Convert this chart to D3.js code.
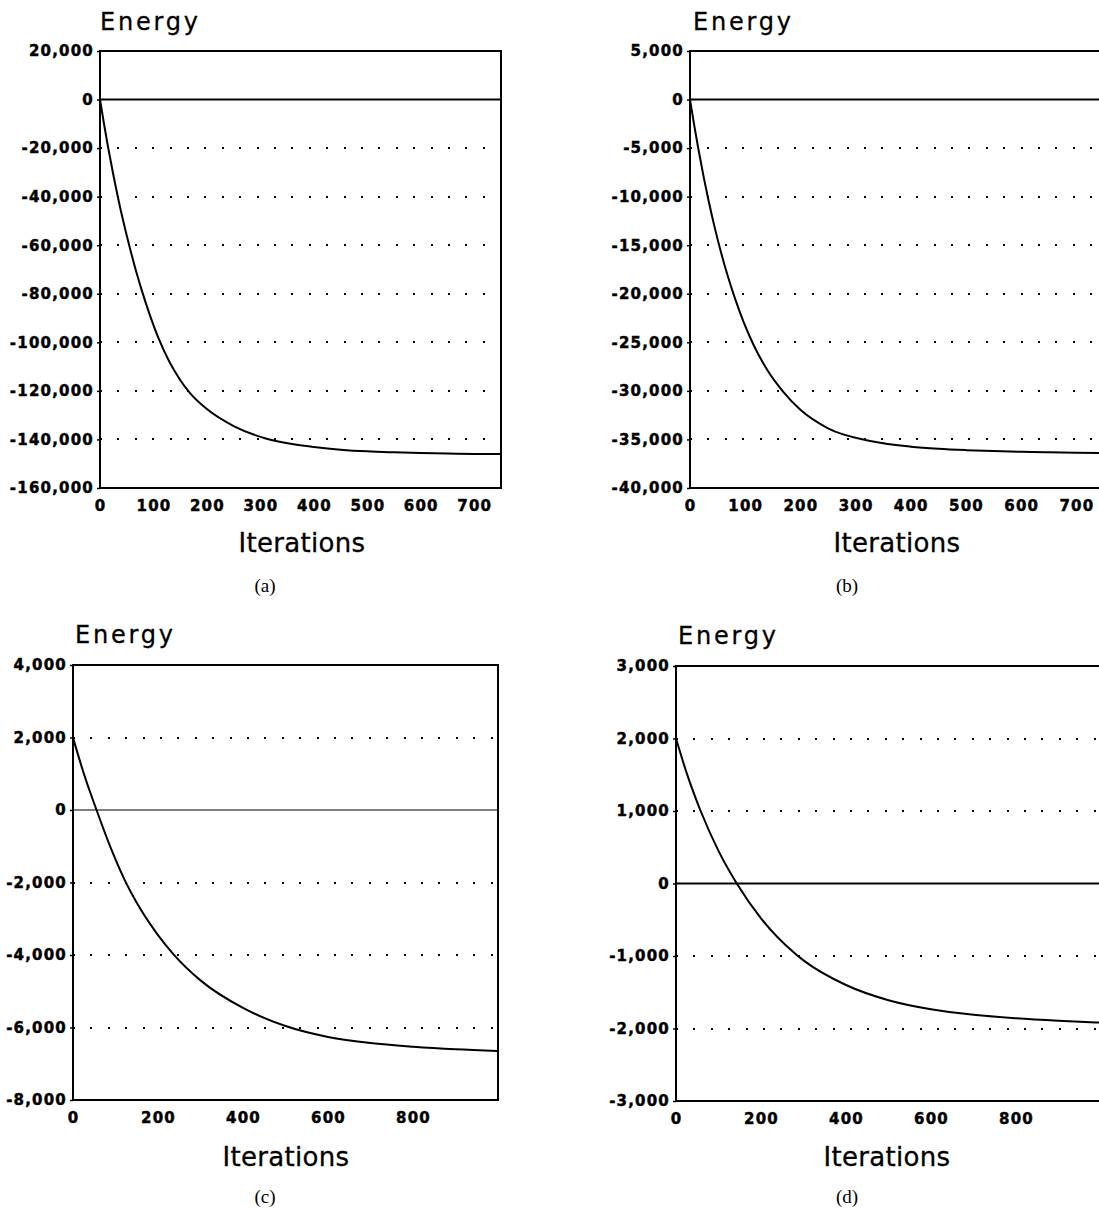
<!DOCTYPE html>
<meta charset="utf-8">
<script src="https://d3js.org/d3.v7.min.js"></script>
<style>
  body { margin: 0; background: #fff; }
  svg { display: block; }
  .tick text { font-family: "DejaVu Sans", sans-serif; font-weight: bold; font-size: 15px; letter-spacing: 1.2px; fill: #000; stroke: #000; stroke-width: 0.45px; }
  .tick line { stroke: #000; stroke-width: 1.5; }
  .title { font-family: "DejaVu Sans", sans-serif; font-size: 24px; letter-spacing: 2.8px; stroke: #000; stroke-width: 0.3px; }
  .xlabel { font-family: "DejaVu Sans", sans-serif; font-size: 26px; letter-spacing: 0.3px; stroke: #000; stroke-width: 0.3px; }
  .caption { font-family: "Liberation Serif", "Times New Roman", serif; font-size: 19px; }
</style>
<body></body>
<script>
  // energy vs iterations
  var itersA = [0, 8, 15, 25, 33, 45, 56, 67, 78, 92, 109, 130, 150, 168, 200, 250, 310, 365, 400, 450, 500, 550, 600, 650, 700, 750];
  var energyA = [0, -10700, -19500, -31100, -39700, -51500, -61200, -70300, -78500, -88000, -98100, -108100, -115500, -120800, -127500, -134500, -139600, -142100, -143100, -144200, -144900, -145300, -145600, -145800, -145950, -146000];

  var itersB = [0, 8, 15, 25, 33, 45, 56, 68, 81, 97, 115, 140, 169, 200, 250, 329, 400, 450, 500, 550, 600, 650, 700, 750];
  var energyB = [0, -2760, -5040, -8040, -10240, -13240, -15700, -18100, -20400, -22900, -25250, -27850, -30100, -31950, -33850, -35180, -35740, -35960, -36100, -36200, -36270, -36320, -36360, -36390];

  var itersC = [0, 25, 56, 90, 122, 150, 200, 235, 300, 400, 500, 600, 700, 800, 900, 1000];
  var energyC = [2000, 1020, -20, -1080, -1940, -2560, -3450, -3960, -4700, -5460, -5960, -6260, -6430, -6530, -6600, -6645];

  var itersD = [0, 25, 58, 100, 143, 200, 280, 300, 400, 500, 600, 700, 800, 900, 1000];
  var energyD = [2000, 1525, 1000, 450, 0, -480, -965, -1060, -1400, -1610, -1735, -1810, -1858, -1893, -1920];

  var xTicksAB = [0, 100, 200, 300, 400, 500, 600, 700];
  var xTicksCD = [0, 200, 400, 600, 800];
  var yTicksA = [20000, 0, -20000, -40000, -60000, -80000, -100000, -120000, -140000, -160000];
  var yTicksB = [5000, 0, -5000, -10000, -15000, -20000, -25000, -30000, -35000, -40000];
  var yTicksC = [4000, 2000, 0, -2000, -4000, -6000, -8000];
  var yTicksD = [3000, 2000, 1000, 0, -1000, -2000, -3000];
  var captions = ["(a)", "(b)", "(c)", "(d)"];

  var panels = [
    { iters: itersA, energy: energyA, xTicks: xTicksAB, xMax: 750, yTicks: yTicksA,
      left: 100, right: 501, top: 51, bottom: 488, titleX: 100, titleY: 30, labX: 302, labY: 552, capX: 265, capY: 592, zeroW: 2 },
    { iters: itersB, energy: energyB, xTicks: xTicksAB, xMax: 750, yTicks: yTicksB,
      left: 690, right: 1104, top: 51, bottom: 488, titleX: 693, titleY: 30, labX: 897, labY: 552, capX: 847, capY: 592, zeroW: 2 },
    { iters: itersC, energy: energyC, xTicks: xTicksCD, xMax: 1000, yTicks: yTicksC,
      left: 73, right: 498, top: 665, bottom: 1100, titleX: 75, titleY: 643, labX: 286, labY: 1166, capX: 265, capY: 1203, zeroW: 1 },
    { iters: itersD, energy: energyD, xTicks: xTicksCD, xMax: 1000, yTicks: yTicksD,
      left: 676, right: 1101, top: 666, bottom: 1101, titleX: 678, titleY: 644, labX: 887, labY: 1166, capX: 847, capY: 1203, zeroW: 2 }
  ];

  var svg = d3.select("body").append("svg")
    .attr("width", 1099)
    .attr("height", 1209);

  var fmt = d3.format(",");
  var yFmt = d => fmt(d).replace("\u2212", "-");

  panels.forEach((p, i) => {
    let x = d3.scaleLinear().domain([0, p.xMax]).range([p.left, p.right]);
    let y = d3.scaleLinear().domain(d3.extent(p.yTicks)).range([p.bottom, p.top]);
    let g = svg.append("g");

    // dotted grid lines (not top, bottom or zero)
    g.selectAll(".grid")
      .data(p.yTicks.filter(t => t !== 0 && t !== y.domain()[0] && t !== y.domain()[1]))
      .enter().append("line")
      .attr("x1", p.left).attr("x2", p.right)
      .attr("y1", d => y(d)).attr("y2", d => y(d))
      .attr("stroke", "#000")
      .attr("stroke-width", 2)
      .attr("shape-rendering", "crispEdges")
      .attr("stroke-dasharray", "2,15.4");

    // zero line
    g.append("line")
      .attr("x1", p.left).attr("x2", p.right)
      .attr("y1", y(0)).attr("y2", y(0))
      .attr("stroke", "#000")
      .attr("stroke-width", p.zeroW);

    // frame
    g.append("rect")
      .attr("x", p.left).attr("y", p.top)
      .attr("width", p.right - p.left).attr("height", p.bottom - p.top)
      .attr("fill", "none")
      .attr("stroke", "#000")
      .attr("stroke-width", 2);

    let yAxis = d3.axisLeft(y).tickValues(p.yTicks).tickFormat(yFmt).tickSize(3).tickPadding(3);
    g.append("g")
      .attr("transform", `translate(${p.left},0)`)
      .call(yAxis)
      .call(a => a.select(".domain").remove());

    let xAxis = d3.axisBottom(x).tickValues(p.xTicks).tickFormat(d3.format("d")).tickSize(0).tickPadding(12);
    g.append("g")
      .attr("transform", `translate(0,${p.bottom})`)
      .call(xAxis)
      .call(a => a.select(".domain").remove());

    let line = d3.line()
      .x(d => x(d[0]))
      .y(d => y(d[1]))
      .curve(d3.curveMonotoneX);

    g.append("path")
      .datum(d3.zip(p.iters, p.energy))
      .attr("d", line)
      .attr("fill", "none")
      .attr("stroke", "#000")
      .attr("stroke-width", 2);

    g.append("text").attr("class", "title")
      .attr("x", p.titleX).attr("y", p.titleY)
      .text("Energy");

    g.append("text").attr("class", "xlabel")
      .attr("x", p.labX).attr("y", p.labY)
      .attr("text-anchor", "middle")
      .text("Iterations");

    g.append("text").attr("class", "caption")
      .attr("x", p.capX).attr("y", p.capY)
      .attr("text-anchor", "middle")
      .text(captions[i]);
  });
</script>
